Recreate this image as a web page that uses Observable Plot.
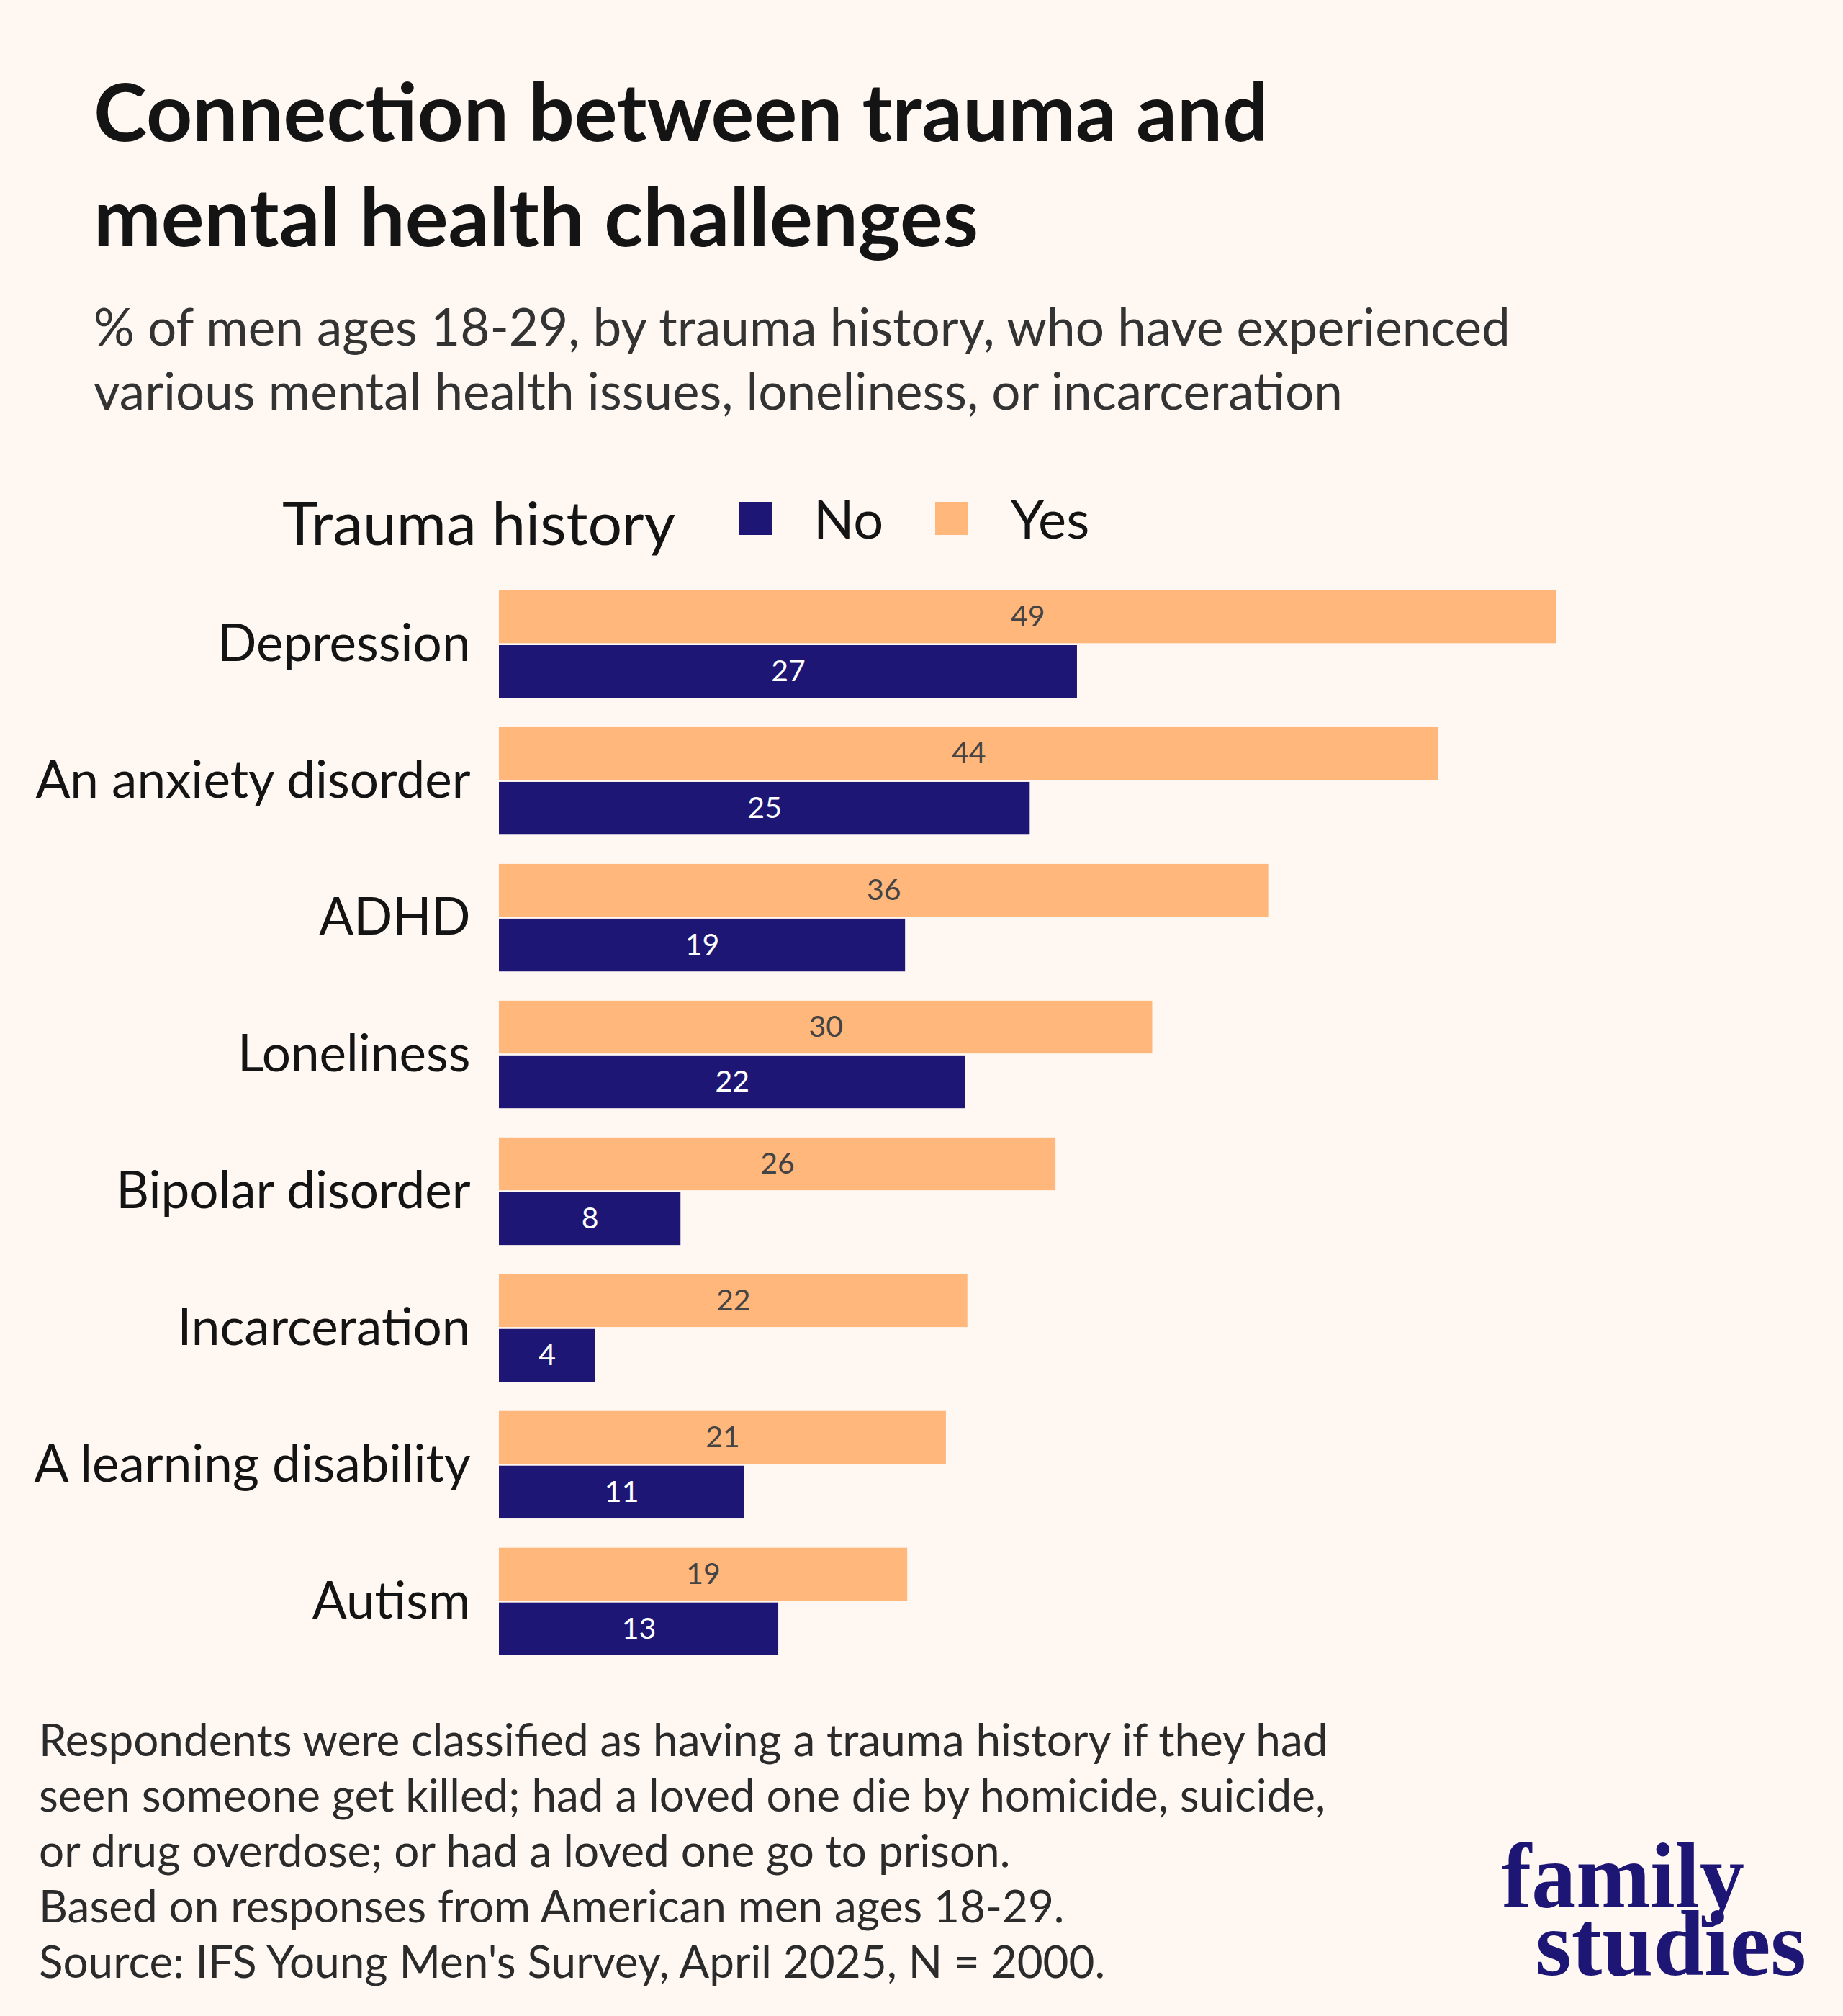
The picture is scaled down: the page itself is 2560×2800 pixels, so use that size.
<!DOCTYPE html>
<html>
<head>
<meta charset="utf-8">
<script src="https://cdn.jsdelivr.net/npm/d3@7"></script>
<script src="https://cdn.jsdelivr.net/npm/@observablehq/plot@0.6"></script>
<style>
  body { margin: 0; background: #fef7f2; }
  #page { position: relative; width: 2560px; height: 2800px; background: #fef7f2; font-family: Lato, sans-serif; overflow: hidden; }
  .abs { position: absolute; white-space: nowrap; }
  #title { left: 130px; top: 80px; font-size: 112px; line-height: 146px; font-weight: 700; color: #141414; }
  #subtitle { left: 130px; top: 408px; font-size: 71px; line-height: 89px; color: #333; }
  #legend-title { left: 392px; top: 683px; font-size: 84px; line-height: 1; color: #141414; }
  .swatch { position: absolute; width: 46px; height: 46px; top: 697px; }
  .legend-label { font-size: 74px; line-height: 1; top: 683px; color: #141414; }
  #chart { position: absolute; left: 0; top: 800px; }
  #notes { left: 54px; top: 2377px; font-size: 62px; line-height: 77px; color: #2b2b2b; }
  #logo { position: absolute; left: 2060px; top: 2530px; }
</style>
</head>
<body>
<div id="page">
  <div id="title" class="abs">Connection between trauma and<br>mental health challenges</div>
  <div id="subtitle" class="abs">% of men ages 18-29, by trauma history, who have experienced<br>various mental health issues, loneliness, or incarceration</div>
  <div id="legend-title" class="abs">Trauma history</div>
  <div id="chart"></div>
  <div id="notes" class="abs">Respondents were classified as having a trauma history if they had<br>seen someone get killed; had a loved one die by homicide, suicide,<br>or drug overdose; or had a loved one go to prison.<br>Based on responses from American men ages 18-29.<br>Source: IFS Young Men's Survey, April 2025, N = 2000.</div>
  <svg id="logo" width="480" height="250">
    <text x="26" y="119" textLength="337" lengthAdjust="spacingAndGlyphs" font-family="Liberation Serif" font-weight="700" font-size="130" fill="#1d1675">family</text>
    <text x="73" y="213" textLength="376" lengthAdjust="spacingAndGlyphs" font-family="Liberation Serif" font-weight="700" font-size="130" fill="#1d1675">studies</text>
  </svg>
</div>
<script>
const categories = ["Depression", "An anxiety disorder", "ADHD", "Loneliness", "Bipolar disorder", "Incarceration", "A learning disability", "Autism"];
// bar lengths; the labels show them rounded
const yesValues = [49.2, 43.7, 35.8, 30.4, 25.9, 21.8, 20.8, 19.0];
const noValues = [26.9, 24.7, 18.9, 21.7, 8.45, 4.47, 11.4, 13.0];
const legendKeys = ["No", "Yes"];
const legendColors = ["#1d1675", "#ffb77b"];

const data = categories.flatMap((c, i) => [
  {category: c, trauma: "Yes", value: yesValues[i]},
  {category: c, trauma: "No", value: noValues[i]}
]);

// legend built by hand so it sits where the original one does
const page = document.getElementById("page");
const swatchX = [1026, 1299];
const labelX = [1130, 1404];
legendKeys.forEach((k, i) => {
  const sw = document.createElement("div");
  sw.className = "swatch";
  sw.style.left = swatchX[i] + "px";
  sw.style.background = legendColors[i];
  page.appendChild(sw);
  const lb = document.createElement("div");
  lb.className = "abs legend-label";
  lb.style.left = labelX[i] + "px";
  lb.textContent = k;
  page.appendChild(lb);
});

const chart = Plot.plot({
  width: 2560,
  height: 1519,
  marginTop: 20,
  marginBottom: 20,
  marginLeft: 693,
  marginRight: 76,
  style: {background: "transparent", fontFamily: "Lato, sans-serif"},
  x: {domain: [0, 60], axis: null},
  y: {domain: ["Yes", "No"], axis: null, paddingInner: 0.0355, paddingOuter: 0, round: false},
  fy: {domain: categories, paddingInner: 0.214, paddingOuter: 0, round: false},
  color: {domain: legendKeys, range: legendColors},
  marks: [
    Plot.barX(data, {x: "value", y: "trauma", fy: "category", fill: "trauma"}),
    Plot.text(data.filter(d => d.trauma === "Yes"), {
      x: d => d.value / 2, y: "trauma", fy: "category", text: d => Math.round(d.value),
      fill: "#444", fontSize: 41
    }),
    Plot.text(data.filter(d => d.trauma === "No"), {
      x: d => d.value / 2, y: "trauma", fy: "category", text: d => Math.round(d.value),
      fill: "white", fontSize: 41
    }),
    Plot.axisFy({anchor: "left", tickSize: 0, tickPadding: 40, fontSize: 71, label: null, color: "#141414"})
  ]
});
document.getElementById("chart").appendChild(chart);
</script>
</body>
</html>
